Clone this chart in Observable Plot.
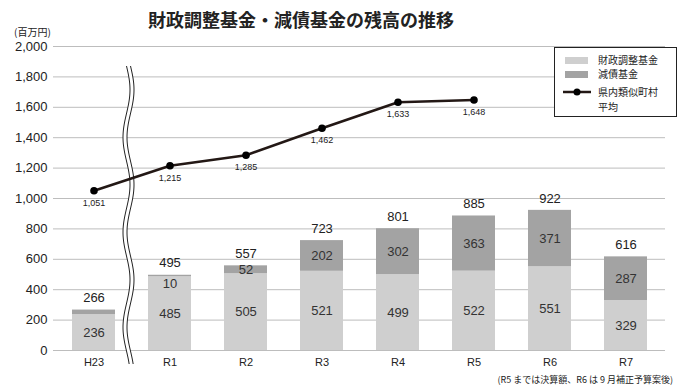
<!DOCTYPE html>
<html><head><meta charset="utf-8">
<script src="https://cdn.jsdelivr.net/npm/d3@7"></script>
<script src="https://cdn.jsdelivr.net/npm/@observablehq/plot@0.6"></script>
<style>
body{margin:0;background:#fff;font-family:"Liberation Sans","Noto Sans CJK JP",sans-serif;}
#wrap{position:relative;width:683px;height:391px;}
#title{position:absolute;left:0;width:602px;top:6px;text-align:center;font-family:"Noto Sans CJK JP",sans-serif;font-weight:bold;font-size:18px;color:#222;}
#unit{position:absolute;left:14px;top:24px;font-size:10px;color:#222;font-family:"Noto Sans CJK JP",sans-serif;}
#note{position:absolute;right:10px;top:373px;font-size:9px;color:#222;font-family:"Noto Sans CJK JP",sans-serif;}
#legend{position:absolute;left:554px;top:47px;width:121px;height:68px;border:1px solid #222;background:#fff;font-family:"Noto Sans CJK JP",sans-serif;font-size:10px;color:#222;}
.sw{position:absolute;left:10px;width:23px;height:7px;}
.tx{position:absolute;left:43px;white-space:nowrap;line-height:12px;}
</style></head><body>
<div id="wrap"><div id="chart"></div>
<div id="title">財政調整基金・減債基金の残高の推移</div>
<div id="unit">(百万円)</div>
<div id="note">(R5 までは決算額、R6 は 9 月補正予算案後)</div>
<div id="legend">
 <div class="sw" style="top:9px;background:#cfcfcf"></div><div class="tx" style="top:6px">財政調整基金</div>
 <div class="sw" style="top:23px;background:#a3a3a3"></div><div class="tx" style="top:20px">減債基金</div>
 <svg style="position:absolute;left:8px;top:39px" width="30" height="10"><line x1="0" y1="5" x2="28" y2="5" stroke="#231815" stroke-width="2.5"/><circle cx="14" cy="5" r="3.5" fill="#000"/></svg>
 <div class="tx" style="top:38px">県内類似町村</div>
 <div class="tx" style="top:53px">平均</div>
</div>
</div>
<script>
const years = ["H23","R1","R2","R3","R4","R5","R6","R7"];
const fiscalAdjustment = [236,485,505,521,499,522,551,329];
const debtReduction = [30,10,52,202,302,363,371,287];
const totals = [266,495,557,723,801,885,922,616];
const avgYears = ["H23","R1","R2","R3","R4","R5"];
const avgValues = [1051,1215,1285,1462,1633,1648];
const seriesNames = ["財政調整基金","減債基金"];

const stacked = [];
years.forEach((y,i)=>{
  const fa = fiscalAdjustment[i], dr = debtReduction[i];
  stacked.push({year:y, series:seriesNames[0], value:fa, mid:fa/2, show:true});
  stacked.push({year:y, series:seriesNames[1], value:dr, mid:fa+dr/2, show:y!=="H23"});
});
const totalData = years.map((y,i)=>({year:y, total:totals[i]}));
const avgData = avgYears.map((y,i)=>({year:y, value:avgValues[i]}));
const fmt = d3.format(",d");
const labelled = stacked.filter(d => d.show);

function breakMark(index, scales, values, dims){
  const x = scales.x;
  const bw = x.bandwidth ? x.bandwidth() : 0;
  const cx = (x("H23") + x("R1")) / 2 + bw / 2 - 3;
  const y0 = dims.marginTop + 20, y1 = dims.height - dims.marginBottom + 15;
  const pts = d3.range(y0, y1 + 1, 2);
  const wave = y => 3.5 * Math.sin((y - y0) / 95 * 2 * Math.PI);
  const left = pts.map(y => [cx - 2 + wave(y), y]);
  const right = pts.map(y => [cx + 2 + wave(y), y]);
  const g = d3.create("svg:g");
  g.append("path").attr("d", d3.line()(left.concat(right.slice().reverse())) + "Z").attr("fill","#fff");
  g.append("path").attr("d", d3.line()(left)).attr("fill","none").attr("stroke","#222").attr("stroke-width",1);
  g.append("path").attr("d", d3.line()(right)).attr("fill","none").attr("stroke","#222").attr("stroke-width",1);
  return g.node();
}

const chart = Plot.plot({
  width: 683, height: 391,
  marginTop: 46, marginBottom: 41, marginLeft: 53, marginRight: 18,
  style: {fontFamily: '"Liberation Sans","Noto Sans CJK JP",sans-serif', color:"#222", background:"#fff"},
  x: {domain: years, paddingInner: 0.44, paddingOuter: 0.21, label: null},
  y: {domain: [0, 2000], label: null},
  color: {domain: seriesNames, range: ["#cfcfcf","#a3a3a3"]},
  marks: [
    Plot.gridY(d3.range(0, 2001, 200), {stroke:"#bdbdbd", strokeOpacity:1, strokeWidth:1}),
    Plot.axisY(d3.range(0, 2001, 200), {tickSize:0, tickPadding:6, tickFormat: fmt, fontSize:13}),
    Plot.axisX({tickSize:0, tickPadding:8, fontSize:11}),
    Plot.barY(stacked, {x:"year", y:"value", fill:"series", order: seriesNames}),
    Plot.text(labelled.filter(d => d.value >= 30), {x:"year", y:"mid", text: d => String(d.value), fontSize:13, fill:"#333"}),
    Plot.text(labelled.filter(d => d.value < 30), {x:"year", y:"mid", text: d => String(d.value), fontSize:13, fill:"#333", dy:8}),
    Plot.text(totalData, {x:"year", y:"total", text: d => String(d.total), dy:-12, fontSize:13, fill:"#222"}),
    breakMark,
    Plot.line(avgData, {x:"year", y:"value", stroke:"#231815", strokeWidth:2.6}),
    Plot.dot(avgData, {x:"year", y:"value", r:3.8, fill:"#000"}),
    Plot.text(avgData, {x:"year", y:"value", text: d => fmt(d.value), dy:12, fontSize:9, fill:"#222"})
  ]
});
document.getElementById("chart").appendChild(chart);
</script>
</body></html>
